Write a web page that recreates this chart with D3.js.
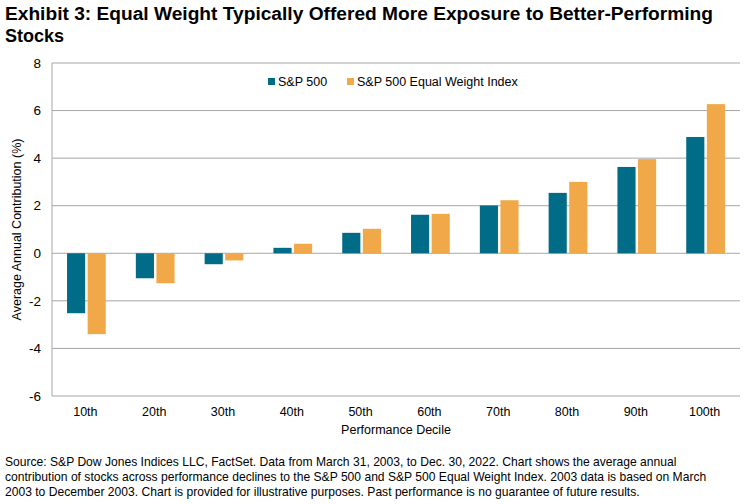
<!DOCTYPE html>
<html>
<head>
<meta charset="utf-8">
<script src="https://cdn.jsdelivr.net/npm/d3@7"></script>
<style>
  body { margin: 0; background: #fff; }
  text { font-family: "Liberation Sans", Arial, sans-serif; fill: #000; }
</style>
</head>
<body>
<div id="chart"></div>
<script>
(function(d3) {
  'use strict';

  var deciles = ['10th', '20th', '30th', '40th', '50th', '60th', '70th', '80th', '90th', '100th'];
  var sp500 = [-2.52, -1.05, -0.46, 0.23, 0.86, 1.62, 2.01, 2.54, 3.63, 4.89];
  var equalWeight = [-3.40, -1.26, -0.30, 0.40, 1.03, 1.66, 2.23, 3.00, 3.96, 6.27];
  var seriesNames = ['S&P 500', 'S&P 500 Equal Weight Index'];
  var yTicks = [-6, -4, -2, 0, 2, 4, 6, 8];

  var width = 753;
  var height = 504;
  var margin = { top: 63, right: 13, bottom: 108, left: 52 };
  var color = ['#006C87', '#F0A848'];

  var svg = d3.select('#chart')
    .append('svg')
    .attr('width', width)
    .attr('height', height);

  var x = d3.scaleBand()
    .domain(deciles)
    .range([margin.left, width - margin.right])
    .paddingInner(0)
    .paddingOuter(0);

  var x1 = d3.scaleBand()
    .domain([0, 1])
    .range([0, x.bandwidth()])
    .paddingInner(0.12)
    .paddingOuter(0.73);

  var y = d3.scaleLinear()
    .domain([-6, 8])
    .range([height - margin.bottom, margin.top]);

  // gridlines
  svg.append('g')
    .selectAll('line')
    .data(yTicks)
    .enter()
    .append('line')
    .attr('x1', margin.left)
    .attr('x2', width - margin.right)
    .attr('y1', function(d) { return y(d); })
    .attr('y2', function(d) { return y(d); })
    .attr('stroke', '#A6A6A6')
    .attr('stroke-width', 1);

  svg.append('line')
    .attr('x1', margin.left).attr('x2', margin.left)
    .attr('y1', y(8)).attr('y2', y(-6))
    .attr('stroke', '#A6A6A6');

  // bars
  var rows = deciles.map(function(d, i) {
    return { decile: d, values: [sp500[i], equalWeight[i]] };
  });

  var groups = svg.append('g')
    .selectAll('g')
    .data(rows)
    .enter()
    .append('g')
    .attr('transform', function(d) { return 'translate(' + x(d.decile) + ',0)'; });

  groups.selectAll('rect')
    .data(function(d) { return d.values; })
    .enter()
    .append('rect')
    .attr('x', function(d, i) { return x1(i); })
    .attr('width', x1.bandwidth())
    .attr('y', function(d) { return y(Math.max(0, d)); })
    .attr('height', function(d) { return Math.abs(y(d) - y(0)); })
    .attr('fill', function(d, i) { return color[i]; });

  // y tick labels
  svg.append('g')
    .selectAll('text')
    .data(yTicks)
    .enter()
    .append('text')
    .attr('x', margin.left - 11)
    .attr('y', function(d) { return y(d); })
    .attr('dy', '0.35em')
    .attr('text-anchor', 'end')
    .style('font-size', '13.5px')
    .text(function(d) { return d; });

  // x labels
  svg.append('g')
    .selectAll('text')
    .data(deciles)
    .enter()
    .append('text')
    .attr('x', function(d) { return x(d) + x.bandwidth() / 2 - 1; })
    .attr('y', y(-6) + 20)
    .attr('text-anchor', 'middle')
    .style('font-size', '12.5px')
    .text(function(d) { return d; });

  svg.append('text')
    .attr('x', (margin.left + width - margin.right) / 2)
    .attr('y', 434)
    .attr('text-anchor', 'middle')
    .style('font-size', '12.5px')
    .text('Performance Decile');

  svg.append('text')
    .attr('transform', 'translate(21,' + ((y(8) + y(-6)) / 2) + ') rotate(-90)')
    .attr('text-anchor', 'middle')
    .style('font-size', '12.5px')
    .text('Average Annual Contribution (%)');

  // legend
  var legendX = [268, 347];
  var legend = svg.append('g')
    .selectAll('g')
    .data(seriesNames)
    .enter()
    .append('g')
    .attr('transform', function(d, i) { return 'translate(' + legendX[i] + ',82)'; });

  legend.append('rect')
    .attr('x', 0).attr('y', -4)
    .attr('width', 7).attr('height', 7)
    .attr('fill', function(d, i) { return color[i]; });

  legend.append('text')
    .attr('x', 10)
    .attr('dy', '0.35em')
    .style('font-size', '12.5px')
    .text(function(d) { return d; });

  // title
  svg.append('text')
    .attr('x', 5).attr('y', 20)
    .attr('textLength', 708)
    .attr('lengthAdjust', 'spacingAndGlyphs')
    .style('font-size', '18px')
    .style('font-weight', 'bold')
    .text('Exhibit 3: Equal Weight Typically Offered More Exposure to Better-Performing');
  svg.append('text')
    .attr('x', 5).attr('y', 42)
    .style('font-size', '18px')
    .style('font-weight', 'bold')
    .text('Stocks');

  // footnote
  var notes = [
    'Source: S&P Dow Jones Indices LLC, FactSet. Data from March 31, 2003, to Dec. 30, 2022. Chart shows the average annual',
    'contribution of stocks across performance declines to the S&P 500 and S&P 500 Equal Weight Index. 2003 data is based on March',
    '2003 to December 2003. Chart is provided for illustrative purposes. Past performance is no guarantee of future results.'
  ];
  svg.append('g')
    .selectAll('text')
    .data(notes)
    .enter()
    .append('text')
    .attr('x', 5)
    .attr('y', function(d, i) { return 466 + i * 15; })
    .style('font-size', '12.1px')
    .style('font-family', '"Liberation Sans Narrow", "Liberation Sans", Arial, sans-serif')
    .text(function(d) { return d; });
})(window.d3);
</script>
</body>
</html>
